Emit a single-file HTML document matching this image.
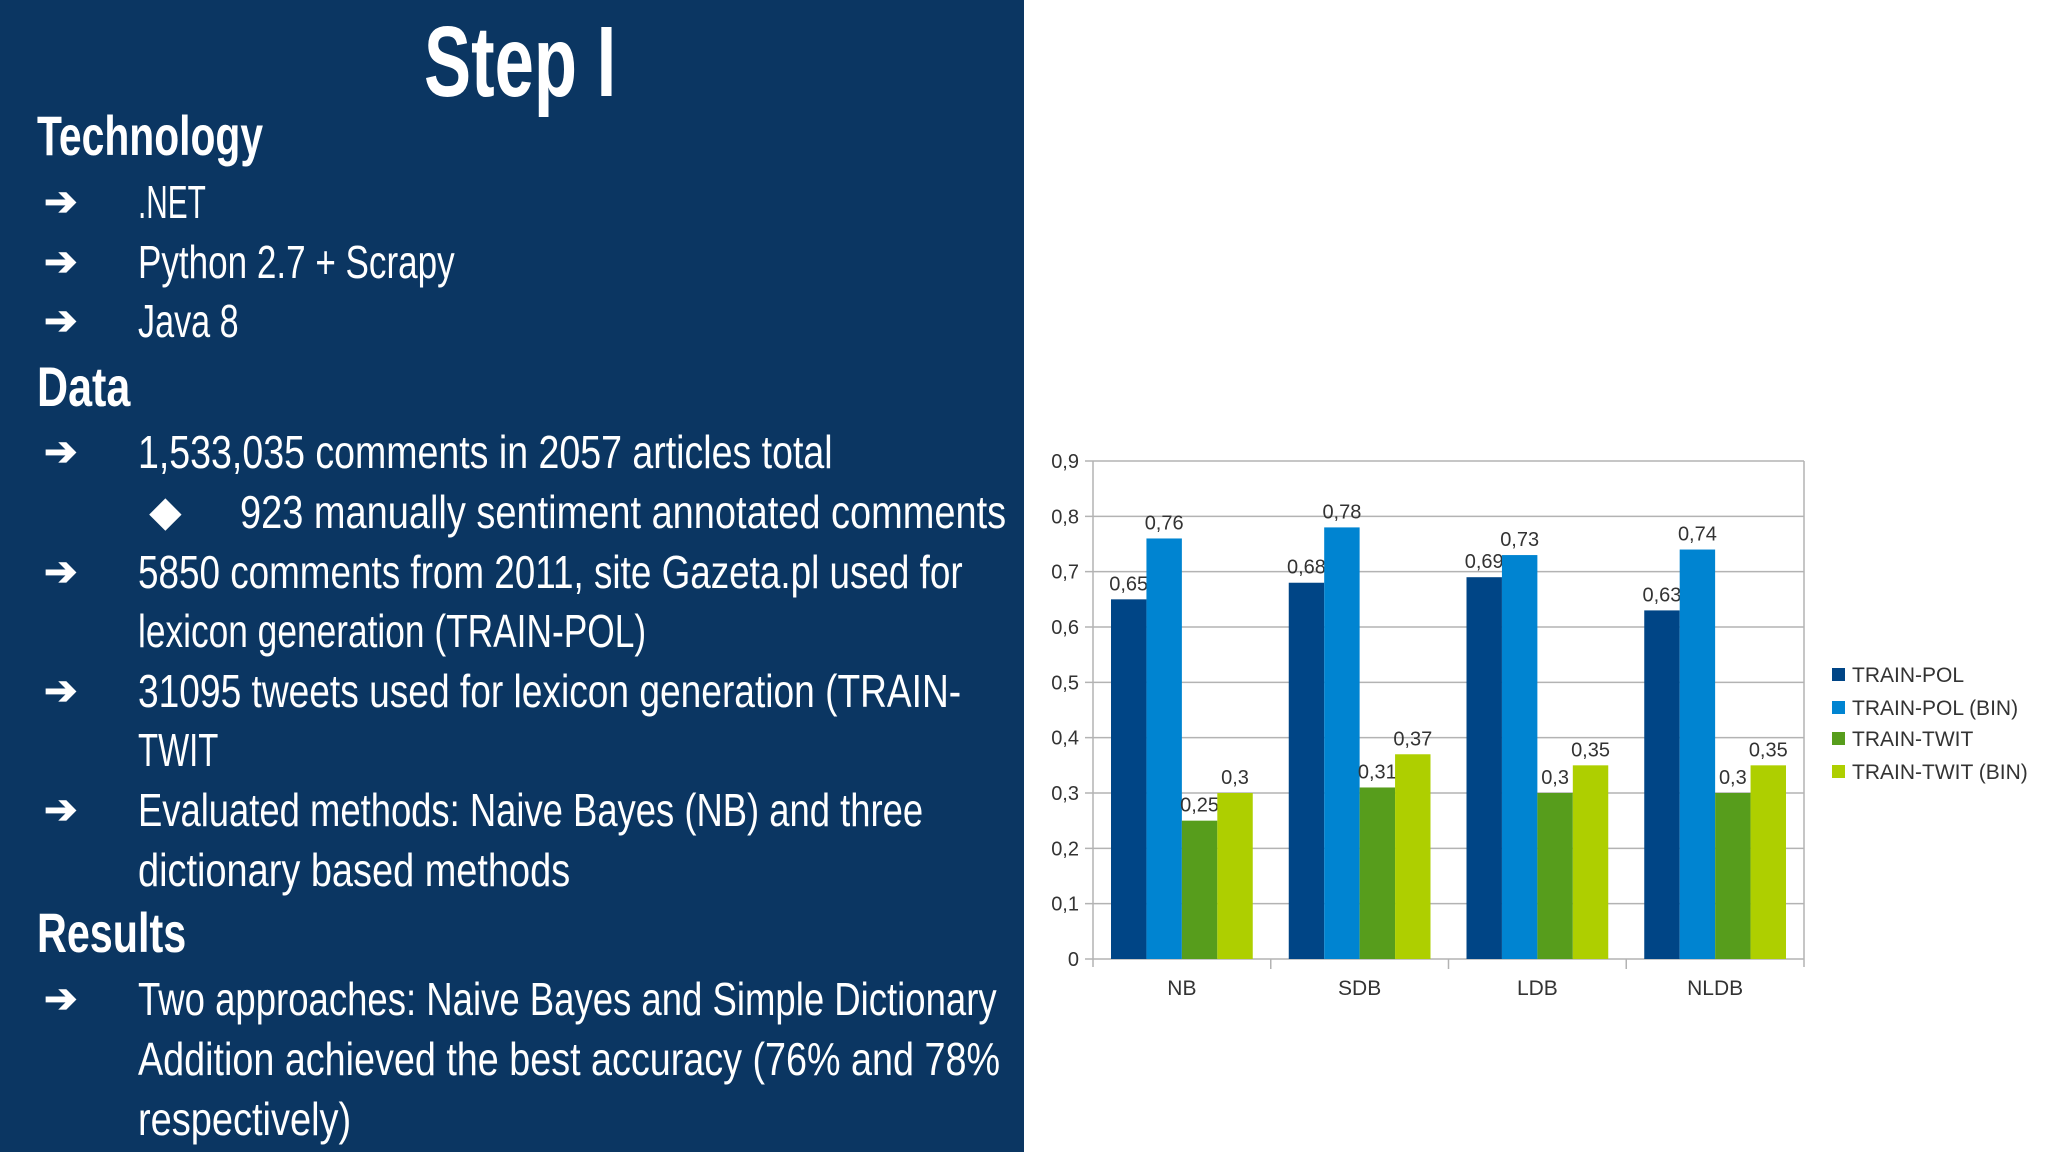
<!DOCTYPE html>
<html><head><meta charset="utf-8">
<style>
body{margin:0;width:2048px;height:1152px;position:relative;background:#fff;overflow:hidden;font-family:"Liberation Sans",sans-serif}
#left{position:absolute;left:0;top:0;width:1024px;height:1152px;background:#0b3662}
.t{position:absolute;color:#fff;white-space:nowrap;transform-origin:0 50%;line-height:1}
.b{font-size:46px}
.h{font-size:56px;font-weight:bold}
.ar{position:absolute;color:#fff;font-size:40px;line-height:1;font-weight:bold}
svg text{font-family:"Liberation Sans",sans-serif}
</style></head><body>
<div id="left">
<div class="t" style="left:424px;top:12px;font-size:100px;font-weight:bold" data-w="192">Step I</div>
<div class="t h" style="left:37px;top:108px" data-w="226">Technology</div>
<div class="t b" style="left:138px;top:179px" data-w="68">.NET</div>
<div class="t b" style="left:138px;top:239px" data-w="317">Python 2.7 + Scrapy</div>
<div class="t b" style="left:138px;top:298px" data-w="101">Java 8</div>
<div class="t h" style="left:37px;top:359px" data-w="93">Data</div>
<div class="t b" style="left:138px;top:429px" data-w="695">1,533,035 comments in 2057 articles total</div>
<div class="t b" style="left:240px;top:489px" data-w="766">923 manually sentiment annotated comments</div>
<div class="t b" style="left:138px;top:549px" data-w="825">5850 comments from 2011, site Gazeta.pl used for</div>
<div class="t b" style="left:138px;top:608px" data-w="508">lexicon generation (TRAIN-POL)</div>
<div class="t b" style="left:138px;top:668px" data-w="823">31095 tweets used for lexicon generation (TRAIN-</div>
<div class="t b" style="left:138px;top:727px" data-w="80">TWIT</div>
<div class="t b" style="left:138px;top:787px" data-w="785">Evaluated methods: Naive Bayes (NB) and three</div>
<div class="t b" style="left:138px;top:847px" data-w="432">dictionary based methods</div>
<div class="t h" style="left:37px;top:905px" data-w="149">Results</div>
<div class="t b" style="left:138px;top:976px" data-w="859">Two approaches: Naive Bayes and Simple Dictionary</div>
<div class="t b" style="left:138px;top:1036px" data-w="862">Addition achieved the best accuracy (76% and 78%</div>
<div class="t b" style="left:138px;top:1096px" data-w="213">respectively)</div>
<div class="ar" style="left:44px;top:182px">➔</div>
<div class="ar" style="left:44px;top:242px">➔</div>
<div class="ar" style="left:44px;top:301px">➔</div>
<div class="ar" style="left:44px;top:432px">➔</div>
<div class="ar" style="left:150px;top:492px">◆</div>
<div class="ar" style="left:44px;top:552px">➔</div>
<div class="ar" style="left:44px;top:671px">➔</div>
<div class="ar" style="left:44px;top:790px">➔</div>
<div class="ar" style="left:44px;top:979px">➔</div>
</div>
<svg id="chart" width="2048" height="1152" style="position:absolute;left:0;top:0"></svg>
<script>
const categories=["NB","SDB","LDB","NLDB"];
const seriesNames=["TRAIN-POL","TRAIN-POL (BIN)","TRAIN-TWIT","TRAIN-TWIT (BIN)"];
const trainPol=[0.65,0.68,0.69,0.63];
const trainPolBin=[0.76,0.78,0.73,0.74];
const trainTwit=[0.25,0.31,0.3,0.3];
const trainTwitBin=[0.3,0.37,0.35,0.35];
const yTicks=[0,0.1,0.2,0.3,0.4,0.5,0.6,0.7,0.8,0.9];
const colors=["#004586","#0084d1","#579d1c","#aecf00"];

document.querySelectorAll('[data-w]').forEach(el=>{
  const w=el.scrollWidth;const tw=+el.getAttribute('data-w');
  el.style.transform='scaleX('+(tw/w)+')';
});

const NS="http://www.w3.org/2000/svg";
const svg=document.getElementById('chart');
const L=1093,R=1804,T=461,B=959,yMax=0.9;
const y=v=>B-(v/yMax)*(B-T);
const gw=(R-L)/categories.length;
const x=i=>L+i*gw;
function mk(tag,attrs,txt){const e=document.createElementNS(NS,tag);for(const k in attrs)e.setAttribute(k,attrs[k]);if(txt!==undefined)e.textContent=txt;svg.appendChild(e);return e;}
const fmt=v=>String(v).replace('.',',');
yTicks.forEach(t=>{
  const g=mk('line',{x1:L-8,x2:R,y1:y(t),y2:y(t),stroke:'#b3b3b3','stroke-width':1.5});
  
  
  const lb=mk('text',{x:L-14,y:y(t)+7,'text-anchor':'end','font-size':20,fill:'#333'},fmt(t));
  
  
});
const ax=mk('line',{x1:L,x2:L,y1:T,y2:B+8,stroke:'#b3b3b3','stroke-width':1.5});


const ra=mk('line',{x1:R,x2:R,y1:T,y2:B+8,stroke:'#b3b3b3','stroke-width':1.5});


for(let i=1;i<categories.length;i++){
  const tk=mk('line',{x1:x(i),x2:x(i),y1:B,y2:B+10,stroke:'#b3b3b3','stroke-width':1.5});
  
  
}
const series=[trainPol,trainPolBin,trainTwit,trainTwitBin];
const pad=18,bw=(gw-2*pad)/4;
categories.forEach((c,i)=>{
  series.forEach((s,j)=>{
    const bx=x(i)+pad+j*bw;
    const r=mk('rect',{x:bx,y:y(s[i]),width:bw,height:B-y(s[i]),fill:colors[j]});
    
    
    const lb=mk('text',{x:bx+bw/2,y:y(s[i])-9,'text-anchor':'middle','font-size':20,fill:'#333'},fmt(s[i]));
    
    
  });
  const cl=mk('text',{x:x(i)+gw/2,y:B+36,'text-anchor':'middle','font-size':21,fill:'#333'},c);
  
  
});
const legY=[675,708,739,772];
seriesNames.forEach((n,j)=>{
  const sq=mk('rect',{x:1832,y:legY[j]-7,width:13,height:13,fill:colors[j]});
  
  
  const t=mk('text',{x:1852,y:legY[j]+7,'font-size':21,fill:'#333'},n);
  
  
});
</script>
</body></html>
